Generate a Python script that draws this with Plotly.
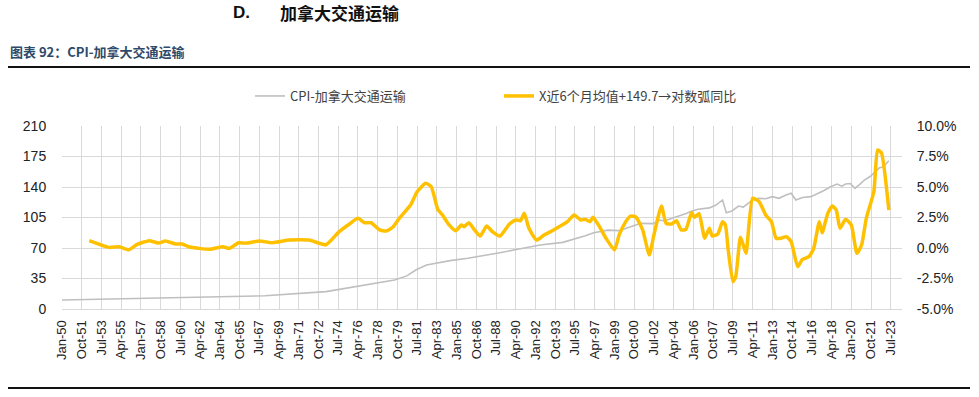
import pandas as pd
import plotly.graph_objects as go

# ---------------- data ----------------
cpi_dates = ["1950-01", "1953-03", "1958-01", "1963-01", "1968-01", "1973-06", "1975-01",
             "1976-06", "1978-01", "1979-07", "1980-08", "1981-06", "1982-05", "1983-03",
             "1984-06", "1986-01", "1987-06", "1988-11", "1990-06", "1992-06", "1994-06",
             "1995-10", "1996-06", "1997-03", "1998-06", "1999-06", "2000-06", "2001-05",
             "2002-06", "2003-01", "2003-06", "2004-06", "2005-06", "2005-10", "2006-06",
             "2007-06", "2008-01", "2008-08", "2008-12", "2009-06", "2010-01", "2010-06",
             "2011-04", "2011-10", "2012-06", "2013-01", "2013-08", "2014-03", "2014-09",
             "2015-02", "2015-09", "2016-06", "2017-03", "2017-08", "2018-03", "2018-10",
             "2019-03", "2019-07", "2019-12", "2020-05", "2020-10", "2021-03", "2021-09",
             "2022-03", "2022-07", "2022-11", "2023-05"]
cpi_values = [10.3, 11.2, 12.3, 13.8, 15.2, 19.9, 23.5,
              26.4, 30.0, 33.3, 38.0, 45.0, 50.5, 52.4,
              55.5, 58.2, 61.0, 64.6, 68.5, 73.4, 76.5,
              81.0, 84.0, 87.6, 90.5, 89.9, 94.5, 98.3,
              98.0, 102.1, 101.0, 105.2, 110.0, 112.0, 114.4,
              116.0, 119.3, 125.1, 110.5, 112.5, 118.2, 117.0,
              125.0, 127.0, 126.5, 128.9, 127.0, 130.5, 132.8,
              125.1, 128.0, 128.9, 133.0, 136.0, 140.3, 143.4,
              141.0, 143.5, 144.0, 138.5, 143.0, 148.0, 152.0,
              158.0, 162.0, 163.0, 170.2]

yoy_dates = ["1952-06", "1954-03", "1955-02", "1955-12", "1956-09", "1957-10", "1958-08",
             "1959-03", "1960-02", "1960-09", "1961-04", "1962-03", "1963-03", "1964-04",
             "1964-11", "1965-09", "1966-05", "1967-07", "1968-09", "1970-03", "1971-12",
             "1973-06", "1974-08", "1975-07", "1976-04", "1976-11", "1977-06", "1978-03",
             "1978-10", "1979-05", "1979-12", "1980-12", "1981-07", "1982-04", "1982-10",
             "1983-05", "1983-10", "1984-05", "1984-12", "1985-06", "1985-09", "1986-02",
             "1986-08", "1987-02", "1987-09", "1988-03", "1988-11", "1989-09", "1990-04",
             "1990-09", "1991-01", "1991-06", "1992-02", "1992-10", "1993-05", "1994-02",
             "1994-11", "1995-06", "1996-01", "1996-06", "1996-11", "1997-02", "1997-09",
             "1998-04", "1999-01", "1999-06", "2000-01", "2000-06", "2000-12", "2001-07",
             "2002-02", "2002-07", "2003-03", "2003-08", "2004-02", "2004-07", "2004-12",
             "2005-05", "2005-11", "2006-02", "2006-07", "2007-01", "2007-06", "2007-09",
             "2008-03", "2008-08", "2008-11", "2009-02", "2009-07", "2009-10", "2010-03",
             "2010-06", "2010-09", "2011-04", "2011-11", "2012-06", "2012-12", "2013-05",
             "2013-10", "2014-04", "2014-09", "2015-04", "2015-09", "2016-04", "2016-09",
             "2017-03", "2017-06", "2017-12", "2018-05", "2018-09", "2019-01", "2019-07",
             "2020-01", "2020-07", "2020-12", "2021-05", "2022-01", "2022-05", "2022-09",
             "2023-05"]
yoy_values = [0.6, 0.05, 0.1, -0.15, 0.3, 0.6, 0.4,
              0.57, 0.33, 0.33, 0.1, -0.03, -0.1, 0.1,
              -0.03, 0.43, 0.4, 0.57, 0.43, 0.65, 0.65,
              0.27, 1.34, 1.97, 2.43, 2.07, 2.07, 1.48,
              1.39, 1.7, 2.43, 3.52, 4.61, 5.3, 5.02,
              3.17, 2.7, 1.89, 1.42, 1.89, 1.75, 2.07,
              1.48, 0.98, 1.8, 1.34, 0.98, 1.95, 2.3,
              2.24, 2.84, 1.61, 0.65, 1.07, 1.34, 1.75,
              2.16, 2.7, 2.3, 2.35, 2.16, 2.52, 1.75,
              0.8, -0.16, 1.07, 2.16, 2.62, 2.52, 1.48,
              -0.57, 1.07, 3.44, 2.02, 1.97, 2.24, 1.48,
              1.53, 2.9, 2.52, 2.84, 0.8, 1.61, 0.98,
              1.15, 2.16, 1.89, -0.16, -2.76, -2.35, 0.88,
              0.25, -0.43, 4.07, 3.8, 2.7, 2.16, 0.8,
              0.8, 0.93, 0.52, -1.53, -0.93, -0.71, -0.03,
              2.16, 1.25, 2.84, 3.44, 3.11, 1.61, 2.35,
              1.89, -0.43, 0.25, 2.43, 4.61, 8.03, 7.81,
              3.11]

x_tick_labels = ["Jan-50", "Oct-51", "Jul-53", "Apr-55", "Jan-57", "Oct-58", "Jul-60", "Apr-62",
                 "Jan-64", "Oct-65", "Jul-67", "Apr-69", "Jan-71", "Oct-72", "Jul-74", "Apr-76",
                 "Jan-78", "Oct-79", "Jul-81", "Apr-83", "Jan-85", "Oct-86", "Jul-88", "Apr-90",
                 "Jan-92", "Oct-93", "Jul-95", "Apr-97", "Jan-99", "Oct-00", "Jul-02", "Apr-04",
                 "Jan-06", "Oct-07", "Jul-09", "Apr-11", "Jan-13", "Oct-14", "Jul-16", "Apr-18",
                 "Jan-20", "Oct-21", "Jul-23"]
left_ticks = [0, 35, 70, 105, 140, 175, 210]
right_ticks = [-5.0, -2.5, 0.0, 2.5, 5.0, 7.5, 10.0]
right_tick_labels = ["-5.0%", "-2.5%", "0.0%", "2.5%", "5.0%", "7.5%", "10.0%"]

name_cpi = "CPI-加拿大交通运输"
name_yoy = "X近6个月均值+149.7→对数弧同比"

# ---------------- figure ----------------
def label_to_date(lbl):
    d = pd.to_datetime(lbl, format="%b-%y")
    if d.year > 2030:
        d = d.replace(year=d.year - 100)
    return d

tick_vals = [label_to_date(t) for t in x_tick_labels]

FONT = "Liberation Sans, Noto Sans CJK SC, sans-serif"
CJK = "Noto Sans CJK SC, Liberation Sans, sans-serif"

FIG_W, FIG_H = 979, 397
L, R, T, B = 62, 902, 126, 309
W, H = R - L, B - T

def px(x):
    return (x - L) / W

def py(y):
    return (B - y) / H

fig = go.Figure()
fig.add_trace(go.Scatter(x=pd.to_datetime(cpi_dates), y=cpi_values, name=name_cpi,
                         mode="lines", line=dict(color="#BFBFBF", width=1.6), yaxis="y"))
fig.add_trace(go.Scatter(x=pd.to_datetime(yoy_dates), y=yoy_values, name=name_yoy,
                         mode="lines", line=dict(color="#FFC000", width=3.5, shape="spline",
                                                 smoothing=0.5), yaxis="y2"))

fig.update_layout(
    width=FIG_W, height=FIG_H,
    margin=dict(l=L, r=FIG_W - R, t=T, b=FIG_H - B, autoexpand=False),
    paper_bgcolor="white", plot_bgcolor="white",
    font=dict(family=FONT, size=13, color="#222222"),
    showlegend=True,
    legend=dict(orientation="h", x=px(250), xanchor="left", y=py(96), yanchor="middle",
                font=dict(family=CJK, size=13, color="#404040"),
                entrywidth=204, entrywidthmode="pixels", bgcolor="rgba(0,0,0,0)"),
    xaxis=dict(type="date", range=[pd.Timestamp("1950-01-01"), pd.Timestamp("2024-07-01")],
               tickvals=tick_vals, ticktext=x_tick_labels, tickangle=-90,
               showgrid=True, gridcolor="#D9D9D9", gridwidth=1,
               showline=True, linecolor="#D9D9D9", linewidth=1,
               ticks="outside", ticklen=5, tickcolor="rgba(0,0,0,0)",
               tickfont=dict(size=13, color="#222222"), zeroline=False),
    yaxis=dict(range=[0, 210], tickvals=left_ticks, showgrid=True, gridcolor="#D9D9D9",
               gridwidth=1, zeroline=False, showline=False,
               ticks="outside", ticklen=12, tickcolor="rgba(0,0,0,0)",
               tickfont=dict(size=14, color="#222222")),
    yaxis2=dict(range=[-5, 10], tickvals=right_ticks, ticktext=right_tick_labels,
                overlaying="y", side="right",
                showgrid=False, zeroline=False,
                ticks="outside", ticklen=11, tickcolor="rgba(0,0,0,0)",
                tickfont=dict(size=14, color="#222222")),
)

# header texts
fig.add_annotation(text="<b>D.</b>", xref="paper", yref="paper", x=px(231),
                   y=py(12), xanchor="left", yanchor="middle", showarrow=False,
                   font=dict(family=FONT, size=17, color="#111111"))
fig.add_annotation(text="<b>加拿大交通运输</b>", xref="paper", yref="paper", x=px(278),
                   y=py(12), xanchor="left", yanchor="middle", showarrow=False,
                   font=dict(family=CJK, size=17, color="#111111"))
fig.add_annotation(text="<b>图表 92：CPI-加拿大交通运输</b>", xref="paper", yref="paper",
                   x=px(8), y=py(51), xanchor="left", yanchor="middle",
                   showarrow=False, font=dict(family=CJK, size=13, color="#2E4A6B"))

# rules
fig.add_shape(type="line", xref="paper", yref="paper", x0=px(8), x1=px(970),
              y0=py(67), y1=py(67), line=dict(color="#111111", width=2))
fig.add_shape(type="line", xref="paper", yref="paper", x0=px(8), x1=px(970),
              y0=py(388), y1=py(388), line=dict(color="#111111", width=2))

fig.write_html("out.html", config={"displayModeBar": False},
               post_script="document.body.style.margin='0';document.body.style.padding='0';")
